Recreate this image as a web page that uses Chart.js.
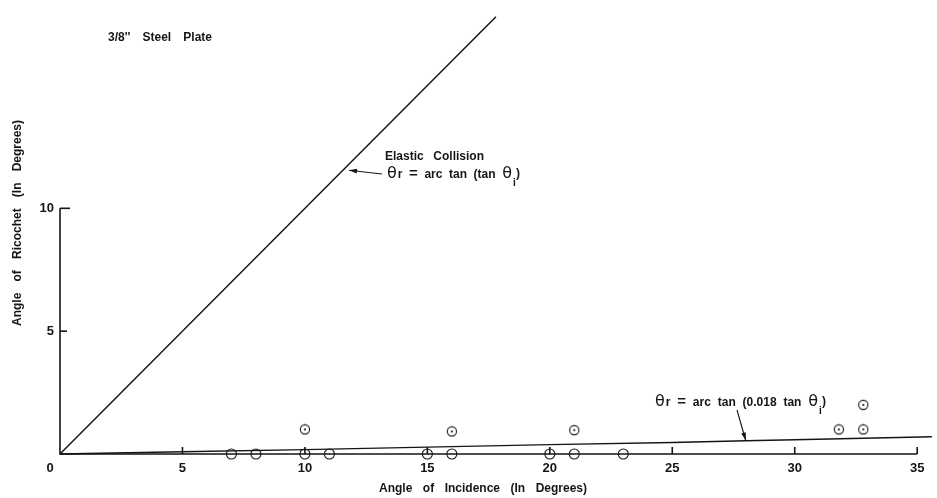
<!DOCTYPE html>
<html><head><meta charset="utf-8">
<script src="https://cdn.jsdelivr.net/npm/chart.js@4/dist/chart.umd.min.js"></script>
<style>html,body{margin:0;padding:0;background:#fff}#wrap{width:937px;height:498px}</style>
</head><body><div id="wrap"><canvas id="c" width="937" height="498"></canvas></div>
<script>
// ---- data ----
const elasticX = [0, 17.8];
const elasticY = [0, 17.8];
const fitX = [0, 5, 10, 15, 20, 25, 28, 30, 35.6];
const fitY = [0, 0.09, 0.18, 0.28, 0.38, 0.47, 0.54, 0.58, 0.7];
const openX = [7, 8, 10, 11, 15, 16, 20, 21, 23];
const openY = [0, 0, 0, 0, 0, 0, 0, 0, 0];
const dotX = [10, 16, 21, 31.8, 32.8, 32.8];
const dotY = [1.0, 0.92, 0.97, 1.0, 1.0, 2.0];
const xTicks = [0, 5, 10, 15, 20, 25, 30, 35];
const yTicks = [0, 5, 10];
const xTitle = "Angle of Incidence (In Degrees)";
const yTitle = "Angle of Ricochet (In Degrees)";
const plotTitle = "3/8'' Steel Plate";

const INK = '#151515';
const FONT = "'Liberation Sans', Arial, sans-serif";
const TXT = "bold 12px " + FONT;

// dotted-circle marker
const dotMarker = document.createElement('canvas');
dotMarker.width = 12; dotMarker.height = 12;
(function(){
  const g = dotMarker.getContext('2d');
  g.strokeStyle = INK; g.lineWidth = 1.1;
  g.beginPath(); g.arc(6, 6, 4.6, 0, Math.PI*2); g.stroke();
  g.fillStyle = INK; g.beginPath(); g.arc(6, 6, 1.1, 0, Math.PI*2); g.fill();
})();

const pts = (xs, ys) => xs.map((x, i) => ({x, y: ys[i]}));

function drawSpaced(ctx, text, x, y, width) {
  const words = text.split(' ');
  const ws = words.map(w => ctx.measureText(w).width);
  const total = ws.reduce((a, b) => a + b, 0);
  const gap = (width - total) / (words.length - 1);
  let cx = x;
  words.forEach((w, i) => { ctx.fillText(w, cx, y); cx += ws[i] + gap; });
}

function arrow(ctx, x1, y1, x2, y2) {
  ctx.beginPath(); ctx.moveTo(x1, y1); ctx.lineTo(x2, y2); ctx.stroke();
  const a = Math.atan2(y2 - y1, x2 - x1), L = 8, W = 2.4;
  ctx.beginPath();
  ctx.moveTo(x2, y2);
  ctx.lineTo(x2 - L*Math.cos(a) + W*Math.sin(a), y2 - L*Math.sin(a) - W*Math.cos(a));
  ctx.lineTo(x2 - L*Math.cos(a) - W*Math.sin(a), y2 - L*Math.sin(a) + W*Math.cos(a));
  ctx.closePath(); ctx.fill();
}

const THETA = "16px 'DejaVu Sans', sans-serif";
function drawEquation(ctx, x, y, mid, width) {
  ctx.textBaseline = 'middle';
  ctx.textAlign = 'left';
  const parts = ['θr', '=', 'arc', 'tan'].concat(mid).concat(['θ']);
  const widthOf = p => {
    if (p === 'θr') { ctx.font = THETA; const a = ctx.measureText('θ').width; ctx.font = TXT; return a + 1 + ctx.measureText('r').width; }
    ctx.font = p === 'θ' ? THETA : (p === '=' ? "bold 15px " + FONT : TXT);
    return ctx.measureText(p).width;
  };
  const ws = parts.map(widthOf);
  const total = ws.reduce((a, b) => a + b, 0);
  const tail = 10;
  const gap = (width - tail - total) / (parts.length - 1);
  let cx = x;
  parts.forEach((p, i) => {
    if (p === 'θr') {
      ctx.font = THETA; ctx.fillText('θ', cx, y);
      const tw = ctx.measureText('θ').width;
      ctx.font = TXT; ctx.fillText('r', cx + tw + 1, y + 1);
    } else if (p === 'θ') {
      ctx.font = THETA; ctx.fillText(p, cx, y);
    } else if (p === '=') {
      ctx.font = "bold 15px " + FONT; ctx.fillText(p, cx, y);
    } else {
      ctx.font = TXT; ctx.fillText(p, cx, y + 1);
    }
    cx += ws[i] + gap;
  });
  cx -= gap;
  ctx.font = "bold 10px " + FONT;
  ctx.fillText('i', cx + 1, y + 9);
  ctx.font = TXT;
  ctx.fillText(')', cx + 4, y);
}

const decor = {
  id: 'decor',
  afterDatasetsDraw(chart) {
    const ctx = chart.ctx, xs = chart.scales.x, ys = chart.scales.y;
    const X = v => xs.getPixelForValue(v), Y = v => ys.getPixelForValue(v);
    ctx.save();
    ctx.strokeStyle = INK; ctx.fillStyle = INK; ctx.lineWidth = 1.6;
    // axes
    ctx.beginPath();
    ctx.moveTo(X(0), Y(yTicks[yTicks.length-1])); ctx.lineTo(X(0), Y(0));
    ctx.lineTo(X(xTicks[xTicks.length-1]), Y(0));
    ctx.stroke();
    // tick marks
    xTicks.forEach(v => { if (v === 0) return; ctx.beginPath(); ctx.moveTo(X(v), Y(0)); ctx.lineTo(X(v), Y(0) - 7); ctx.stroke(); });
    yTicks.forEach((v, i) => { if (v === 0) return; ctx.beginPath(); ctx.moveTo(X(0), Y(v)); ctx.lineTo(X(0) + (i === yTicks.length-1 ? 10 : 7), Y(v)); ctx.stroke(); });
    // tick labels
    ctx.font = "bold 13px " + FONT; ctx.textBaseline = 'middle';
    ctx.textAlign = 'center';
    xTicks.forEach(v => { ctx.fillText(String(v), v === 0 ? X(0) - 10 : X(v), Y(0) + 14); });
    ctx.textAlign = 'right';
    yTicks.forEach(v => { if (v === 0) return; ctx.fillText(String(v), X(0) - 6, Y(v)); });
    // axis titles
    ctx.font = TXT; ctx.textAlign = 'left';
    drawSpaced(ctx, xTitle, 379, 489, 208);
    ctx.save(); ctx.translate(18, 326); ctx.rotate(-Math.PI/2);
    drawSpaced(ctx, yTitle, 0, 0, 206);
    ctx.restore();
    // plot title
    drawSpaced(ctx, plotTitle, 108, 38, 104);
    // annotations
    drawSpaced(ctx, "Elastic Collision", 385, 157, 99);
    drawEquation(ctx, 387, 174, ['(tan'], 135);
    drawEquation(ctx, 655, 402, ['(0.018', 'tan'], 173);
    ctx.lineWidth = 1.1;
    arrow(ctx, 382, 174, X(11.8), Y(11.55));
    arrow(ctx, 737, 410, X(28), Y(0.55));
    ctx.restore();
  }
};

new Chart(document.getElementById('c'), {
  type: 'scatter',
  data: {
    datasets: [
      { data: pts(elasticX, elasticY), showLine: true, borderColor: INK, borderWidth: 1.5, pointRadius: 0, clip: false },
      { data: pts(fitX, fitY), showLine: true, borderColor: INK, borderWidth: 1.4, pointRadius: 0, clip: false },
      { data: pts(openX, openY), showLine: false, pointStyle: 'circle', pointRadius: 5, borderColor: INK, borderWidth: 1.1, backgroundColor: 'rgba(0,0,0,0)', clip: false },
      { data: pts(dotX, dotY), showLine: false, pointStyle: dotMarker, pointRadius: 5, clip: false }
    ]
  },
  options: {
    responsive: false, animation: false, events: [],
    layout: { padding: { left: 60, right: 0, top: 0, bottom: 44 } },
    plugins: { legend: { display: false }, tooltip: { enabled: false }, title: { display: false } },
    scales: {
      x: { type: 'linear', min: 0, max: 35.56, display: false },
      y: { type: 'linear', min: 0, max: 18.23, display: false }
    }
  },
  plugins: [decor]
});
</script>
</body></html>
